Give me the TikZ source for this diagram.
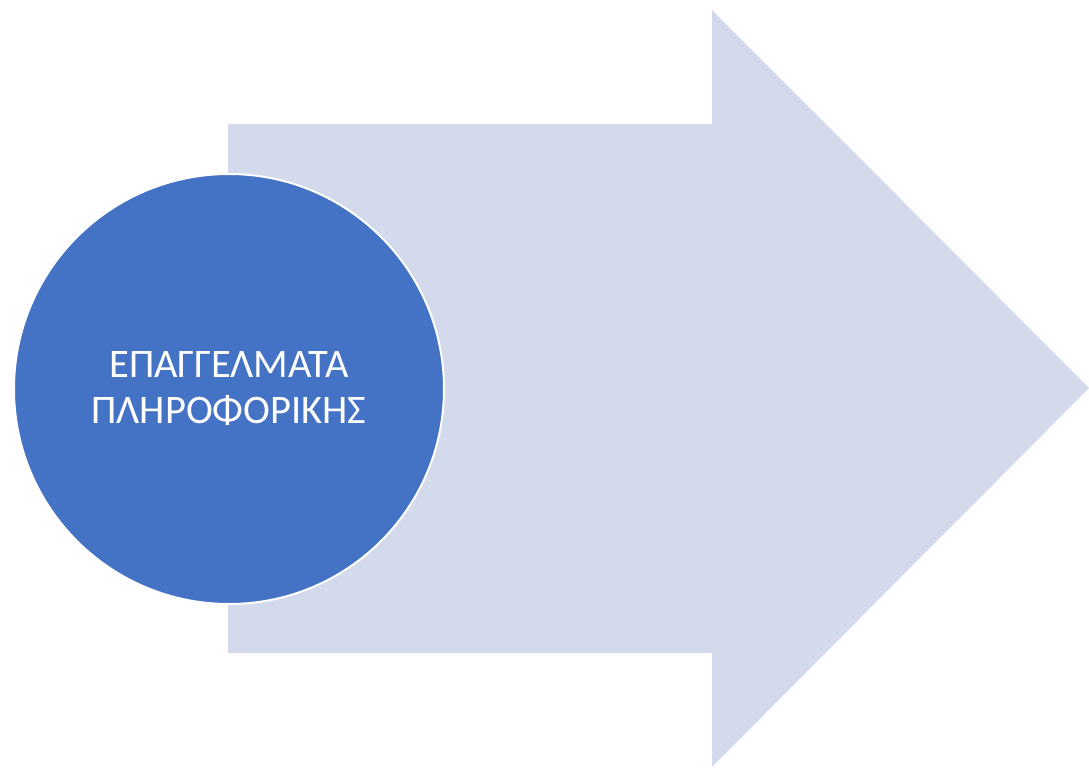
\documentclass[tikz,border=0pt]{standalone}
\usepackage{fontspec}
\setmainfont{Carlito}
\definecolor{arrowfill}{HTML}{D3DAEC}
\definecolor{circfill}{HTML}{4472C4}
\tikzset{
  bigarrow/.style={fill=arrowfill, draw=none},
  circ/.style={circle, fill=circfill, draw=white, line width=2pt, minimum size=430pt, inner sep=0pt,
    text=white, font=\fontsize{40.5}{46}\selectfont, align=center}
}
\begin{document}
\begin{tikzpicture}[x=1pt,y=-1pt]
\useasboundingbox (0,0) rectangle (1089,769);
\fill[bigarrow] (228,124) -- (712,124) -- (712,10) -- (1089,388) -- (712,767) -- (712,653) -- (228,653) -- cycle;
\node[circ] (c) at (229,389) {ΕΠΑΓΓΕΛΜΑΤΑ\\ΠΛΗΡΟΦΟΡΙΚΗΣ};
\end{tikzpicture}
\end{document}
